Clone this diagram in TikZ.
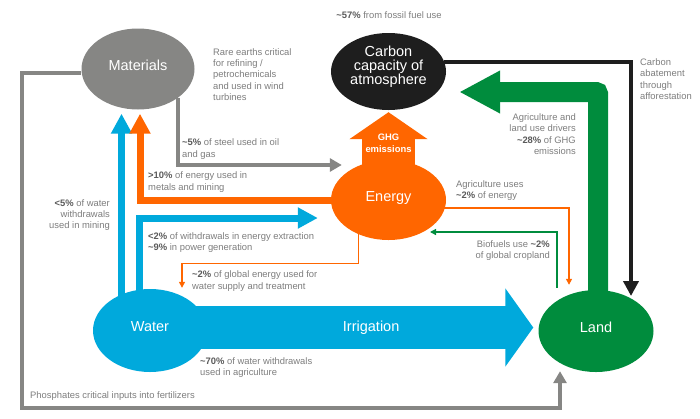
\documentclass[tikz,border=0pt]{standalone}
\usepackage{fontspec}
\setmainfont{Liberation Sans}
\usetikzlibrary{shapes.geometric, arrows.meta, positioning, calc, backgrounds}
\usepackage{xcolor}
\definecolor{nexusorange}{HTML}{FF6600}
\definecolor{nexusblue}{HTML}{00A9DC}
\definecolor{nexusgreen}{HTML}{008C3D}
\definecolor{nexusgray}{HTML}{868684}
\definecolor{nexusblack}{HTML}{1E1E1E}
\definecolor{notegray}{HTML}{7D7D7D}
\definecolor{figgray}{HTML}{5A5A5A}
\newcommand{\figtxt}[1]{\textbf{\color{figgray}#1}}

\begin{document}
\begin{tikzpicture}[
    x=1pt, y=-1pt,
    hub/.style={ellipse, minimum width=115pt, minimum height=81pt, inner sep=0pt, text=white, text depth=7pt, font=\fontsize{14.5}{14}\selectfont, align=center},
    note/.style={font=\fontsize{9.4}{11.4}\selectfont, text=notegray, inner sep=0pt},
    flow/.style={line width=7pt, -{Triangle[width=20pt,length=20pt]}},
    feed/.style={line width=1.3pt, -{Triangle[width=6pt,length=6pt]}},
    link/.style={draw=nexusgray, line width=3.5pt, -{Triangle[width=13pt,length=12pt]}}
]
\useasboundingbox (0,0) rectangle (700,418);

\node[hub, fill=nexusgray, minimum width=113pt] (materials) at (138,69) {Materials};
\node[hub, fill=nexusblack, minimum height=77pt, text depth=13pt] (carbon) at (388.5,71.5) {Carbon\\capacity of\\atmosphere};
\node[hub, fill=nexusorange, minimum height=80pt] (energy) at (388.5,200) {Energy};
\node[hub, fill=nexusblue, minimum width=114pt, minimum height=83pt] (water) at (150,330.5) {Water};
\node[hub, fill=nexusgreen, minimum height=82pt] (land) at (596,331) {Land};

\begin{scope}[on background layer]
\draw[nexusorange, line width=53pt, -{Triangle[width=77pt,length=27pt]}] (energy.center) -- ($(carbon.south)+(0,2)$);
\draw[nexusgreen, line width=20pt, rounded corners=2pt, -{Triangle[width=40pt,length=41pt]}] ($(land.center)+(2,0)$) |- ($(carbon.east)+(13,20.5)$);
\draw[nexusblue, line width=43pt, -{Triangle[width=77pt,length=28pt]}] ($(water.center)+(0,-3)$) -- ($(land.west)+(-5,-3.5)$)
    node[pos=0.577, text=white, font=\fontsize{14.5}{14}\selectfont] (irrigation) {Irrigation};
\draw[flow, nexusblue] ($(water.center)+(-28.5,0)$) -- ($(materials.south)+(-16.5,4)$);
\draw[flow, nexusblue] ($(water.center)+(-11,0)$) |- ($(energy.west)+(-13,18)$);
\draw[flow, nexusorange] (energy.center) -| ($(materials.south)+(2,4)$);
\end{scope}

\node[font=\bfseries\fontsize{9.4}{12}\selectfont, text=white, align=center, inner sep=0pt] (ghg) at (388.5,143) {GHG\\emissions};

\draw[link] (materials.south east) |- ($(energy.west)+(11,-35)$);
\draw[nexusgray, line width=4pt, -{Triangle[width=13pt,length=12pt]}] ($(materials.west)+(0,3.5)$) -| (22,408) -| ($(land.south)+(-36,-1)$);
\draw[nexusblack, line width=4pt, -{Triangle[width=15pt,length=15pt]}] (carbon.10) -| ($(land.center)+(35,-35)$);
\draw[feed, nexusorange] ($(energy.south)+(-30,-10)$) -- ($(energy.south)+(-30,23)$) -| ($(water.north)+(32,-1)$);
\draw[feed, nexusorange] ($(energy.east)+(-5,8)$) -| ($(land.north)+(-27,-5)$);
\draw[feed, nexusgreen] ($(land.north)+(-39,-2)$) |- ($(energy.center)+(41.5,32)$);

\node[note] (fossil) at (389,15) {\figtxt{\textasciitilde57\%} from fossil fuel use};
\node[note, anchor=west, align=left] (rare) at (213,74.5) {Rare earths critical\\for refining /\\petrochemicals\\and used in wind\\turbines};
\node[note, anchor=west, align=left] (steel) at (182,149) {\figtxt{\textasciitilde5\%} of steel used in oil\\and gas};
\node[note, anchor=west, align=left] (metals) at (148,182) {\figtxt{>10\%} of energy used in\\metals and mining};
\node[note, anchor=east, align=right] (mining) at (110,215) {\figtxt{<5\%} of water\\withdrawals\\used in mining};
\node[note, anchor=west, align=left] (extraction) at (148,242.5) {\figtxt{<2\%} of withdrawals in energy extraction\\\figtxt{\textasciitilde9\%} in power generation};
\node[note, anchor=west, align=left] (supply) at (192,281) {\figtxt{\textasciitilde2\%} of global energy used for\\water supply and treatment};
\node[note, anchor=west, align=left] (agri) at (200,367.5) {\figtxt{\textasciitilde70\%} of water withdrawals\\used in agriculture};
\node[note, anchor=west] (phosphates) at (30,396) {Phosphates critical inputs into fertilizers};
\node[note, anchor=west, align=left] (abatement) at (640,79) {Carbon\\abatement\\through\\afforestation};
\node[note, anchor=east, align=right] (drivers) at (576,134) {Agriculture and\\land use drivers\\\figtxt{\textasciitilde28\%} of GHG\\emissions};
\node[note, anchor=west, align=left] (agriuse) at (456,190.5) {Agriculture uses\\\figtxt{\textasciitilde2\%} of energy};
\node[note, anchor=east, align=right] (biofuels) at (550,250.5) {Biofuels use \figtxt{\textasciitilde2\%}\\of global cropland};
\end{tikzpicture}
\end{document}
